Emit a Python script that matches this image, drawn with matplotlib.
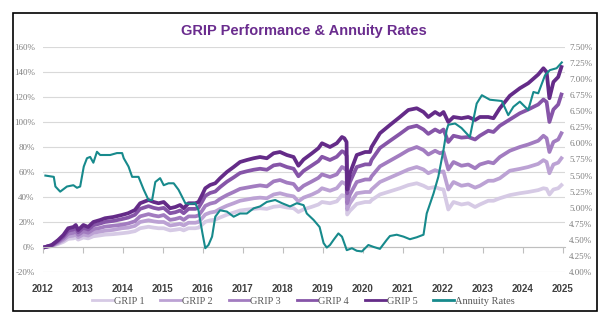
import matplotlib
matplotlib.use("Agg")
import matplotlib.pyplot as plt
from matplotlib.patches import Rectangle
from matplotlib.lines import Line2D

# chart time (position along the year axis) shared by the GRIP series
grip_t = [
    2012.06, 2012.22, 2012.38, 2012.51, 2012.63, 2012.76, 2012.82, 2012.88,
    2013.01, 2013.13, 2013.26, 2013.43, 2013.55, 2013.76, 2013.97,
    2014.13, 2014.30, 2014.43, 2014.64, 2014.77, 2014.89,
    2015.02, 2015.18, 2015.31, 2015.43, 2015.52, 2015.64, 2015.81, 2015.89, 2015.98,
    2016.06, 2016.18, 2016.31, 2016.43, 2016.60, 2016.77, 2016.93,
    2017.10, 2017.27, 2017.43, 2017.60, 2017.77, 2017.93,
    2018.10, 2018.27, 2018.39, 2018.52, 2018.73, 2018.89, 2018.98,
    2019.18, 2019.35, 2019.48, 2019.54, 2019.595, 2019.61, 2019.68, 2019.85,
    2020.06, 2020.18, 2020.22, 2020.43, 2020.68, 2020.93,
    2021.14, 2021.35, 2021.52, 2021.64, 2021.81, 2021.93,
    2022.02, 2022.14, 2022.27, 2022.47, 2022.64, 2022.81, 2022.93,
    2023.14, 2023.27, 2023.43, 2023.68, 2023.93,
    2024.14, 2024.39, 2024.52, 2024.60, 2024.67, 2024.77, 2024.89, 2024.97,
]

grip5 = [
    0, 1.6, 5.6, 9.6, 15, 16, 17.6, 13.6,
    17.6, 16, 20, 21.6, 23, 24, 25.6,
    27, 29.6, 35, 37.6, 36, 35,
    36, 31, 32, 33.6, 31, 35, 35, 36, 41.6,
    47, 49.6, 51, 55, 60, 64, 68,
    69.6, 71, 72, 71, 75, 76,
    73.6, 72, 65, 70, 75, 79, 83,
    80, 83, 88, 87, 84, 46, 59, 73.6,
    76, 76, 80, 91, 97.6, 104,
    109.6, 111, 108, 104, 108, 105.6,
    108, 100, 104, 103, 104, 101.6, 104,
    104, 103, 111, 121, 127,
    131, 138, 143, 140, 119, 132, 136, 144,
]
grip4 = [
    0, 1.4, 4.9, 8.3, 13, 14, 15.3, 11.8,
    15.3, 14, 17.4, 18.8, 20, 20.9, 22.3,
    23.5, 25.8, 30.5, 32.7, 31.3, 30.5,
    31.3, 27, 27.8, 29.2, 27, 30.5, 30.5, 31.3, 36.2,
    40.9, 43.2, 44.4, 47.9, 52.2, 55.7, 59.2,
    60.6, 61.8, 62.6, 61.8, 65.3, 66.1,
    64, 62.6, 56.6, 60.9, 65.3, 68.7, 72.2,
    69.6, 72.2, 76.6, 75.7, 73, 43, 52, 64,
    66.1, 66.1, 69.6, 79.2, 84.9, 90.5,
    95.4, 97, 94, 90.5, 94, 91.9,
    94, 84, 89, 87.5, 88, 86, 89,
    93, 92, 97, 102, 107,
    110, 114, 118, 116, 100, 110, 114, 122,
]
grip3 = [
    0, 1.1, 4, 6.8, 10.6, 11.4, 12.5, 9.7,
    12.5, 11.4, 14.2, 15.3, 16.3, 17, 17.8,
    18.8, 20.6, 24.5, 26.3, 25.2, 24.5,
    25.6, 21.7, 22.4, 23.5, 21.7, 24.5, 24.5, 25.2, 29,
    32.9, 34.7, 35.7, 38.5, 41.5, 44, 46.5,
    47.5, 48.5, 49.3, 48.5, 52.5, 53.6,
    51.5, 50.4, 45.5, 49, 52.5, 55.3, 58.1,
    56, 58.1, 64, 63, 61, 35, 42, 52,
    54, 54, 56.5, 64.5, 69, 73.5,
    77.5, 80, 77.5, 74, 77, 75,
    76, 62, 68, 65, 66, 63, 66,
    68, 67, 72, 77, 80,
    82, 85, 89, 87, 76, 84, 86, 91,
]
grip2 = [
    0, 0.9, 3.2, 5.5, 8.5, 9.1, 10, 7.8,
    10, 9.1, 11.4, 12.3, 13, 13.7, 15,
    15.5, 16.9, 20, 21.4, 20.5, 20,
    20, 17.2, 17.8, 18.6, 17.2, 19.4, 19.4, 20, 23,
    26, 27.5, 28.3, 30.5, 33, 35, 37,
    38, 39, 39.5, 39, 42, 43,
    41.5, 40.5, 36.5, 39.5, 42, 44.5, 47,
    45, 47, 52, 51, 49.5, 30, 35, 43,
    44, 44, 46, 52, 55.5, 59,
    62, 64, 62, 59, 61.5, 60,
    60.5, 46, 52, 49, 50, 47.5, 49,
    53, 53, 55, 61, 62.5,
    64, 66.5, 69.5, 68, 59, 66, 67.5, 71,
]
grip1 = [
    0, 0.7, 2.4, 4.1, 6.5, 6.9, 7.6, 5.9,
    7.6, 6.9, 8.6, 9.3, 9.9, 10.3, 11,
    11.6, 12.7, 15, 16.2, 15.5, 15,
    15, 13.3, 13.8, 14.4, 13.3, 15, 15, 15.5, 17.9,
    20.2, 21.3, 21.9, 23.6, 25.8, 27.5, 29.2,
    29.9, 30.5, 31, 30.5, 32.2, 32.7,
    31.6, 31, 28, 30.1, 32.2, 34, 36,
    35, 36.5, 41.5, 41, 40, 26, 29, 34.5,
    36, 36, 37.5, 42, 44.5, 47,
    49.5, 51, 49, 47, 48, 46.5,
    46, 30, 36, 34, 35, 32, 34,
    37, 37, 39, 41.5, 43,
    44, 45.5, 47, 46.5, 42, 46, 47, 49.5,
]

annuity_t = [
    2012.06, 2012.27, 2012.31, 2012.43, 2012.60, 2012.76, 2012.85, 2012.93,
    2013.02, 2013.10, 2013.18, 2013.26, 2013.35, 2013.43, 2013.68, 2013.85, 2013.98,
    2014.02, 2014.14, 2014.23, 2014.39, 2014.52, 2014.64, 2014.73, 2014.81, 2014.93,
    2015.02, 2015.14, 2015.27, 2015.39, 2015.48, 2015.56, 2015.68, 2015.81, 2015.89, 2015.93, 2015.99,
    2016.06, 2016.14, 2016.23, 2016.31, 2016.43, 2016.60, 2016.77, 2016.93,
    2017.10, 2017.27, 2017.43, 2017.60, 2017.81, 2017.98,
    2018.18, 2018.35, 2018.52, 2018.60, 2018.77, 2018.92,
    2019.02, 2019.10, 2019.18, 2019.27, 2019.39, 2019.48, 2019.60, 2019.73, 2019.85, 2019.98,
    2020.14, 2020.27, 2020.43, 2020.60, 2020.68, 2020.85,
    2021.02, 2021.18, 2021.35, 2021.52, 2021.60, 2021.77, 2021.89,
    2022.02, 2022.10, 2022.14, 2022.31, 2022.47, 2022.68, 2022.85, 2022.98,
    2023.18, 2023.48, 2023.64, 2023.77, 2023.93,
    2024.14, 2024.27, 2024.39, 2024.56, 2024.68, 2024.85, 2024.98,
]
annuity = [
    5.50, 5.48, 5.33, 5.25, 5.33, 5.35, 5.31, 5.33,
    5.64, 5.77, 5.79, 5.70, 5.87, 5.82, 5.82, 5.85, 5.85,
    5.77, 5.64, 5.48, 5.48, 5.28, 5.12, 5.12, 5.40, 5.46,
    5.35, 5.38, 5.38, 5.28, 5.17, 5.07, 5.06, 5.07, 4.96, 4.81, 4.60,
    4.37, 4.42, 4.55, 4.86, 4.96, 4.94, 4.86, 4.91,
    4.91, 4.99, 5.02, 5.09, 5.12, 5.07,
    5.02, 5.07, 5.04, 4.91, 4.81, 4.70,
    4.45, 4.38, 4.42, 4.50, 4.60, 4.55, 4.34, 4.37, 4.33, 4.32,
    4.42, 4.39, 4.36, 4.50, 4.56, 4.58,
    4.55, 4.51, 4.54, 4.58, 4.91, 5.22, 5.48,
    5.90, 6.21, 6.29, 6.31, 6.24, 6.10, 6.62, 6.75,
    6.68, 6.66, 6.44, 6.57, 6.65,
    6.52, 6.80, 6.78, 7.06, 7.14, 7.17, 7.26,
]

years = list(range(2012, 2026))
left_ticks = [-20, 0, 20, 40, 60, 80, 100, 120, 140, 160]
right_ticks = [4.00, 4.25, 4.50, 4.75, 5.00, 5.25, 5.50, 5.75, 6.00, 6.25,
               6.50, 6.75, 7.00, 7.25, 7.50]

grip_series = [grip1, grip2, grip3, grip4, grip5]
grip_names = ["GRIP 1", "GRIP 2", "GRIP 3", "GRIP 4", "GRIP 5"]
grip_colors = ["#d6cae5", "#bca2d4", "#a27cc0", "#8655a8", "#642b88"]
teal = "#178a8c"
serif = "Liberation Serif"
sans = "Liberation Sans"

W, H = 607, 330
fig = plt.figure(figsize=(W / 100, H / 100), dpi=100)
x0, x1, y0, y1 = 43, 565, 47, 272
ax = fig.add_axes([x0 / W, 1 - y1 / H, (x1 - x0) / W, (y1 - y0) / H])

for vals, name, col in zip(grip_series, grip_names, grip_colors):
    ax.plot(grip_t, vals, color=col, lw=2.7, label=name, solid_joinstyle="round")

ax.set_xlim(2012, 2025.06)
ax.set_ylim(-20, 160)
ax.set_yticks(left_ticks)
ax.set_yticklabels([f"{v}%" for v in left_ticks], family=serif, fontsize=6.5, color="#7f7f7f")
ax.tick_params(axis="y", length=0, pad=6)
ax.yaxis.grid(True, color="#d9d9d9", lw=0.8)
ax.set_axisbelow(True)
for s in ["top", "right", "left"]:
    ax.spines[s].set_visible(False)
ax.spines["bottom"].set_position(("data", 0))
ax.spines["bottom"].set_color("#bfbfbf")
ax.spines["bottom"].set_linewidth(0.8)
ax.set_xticks(years)
ax.tick_params(axis="x", length=4, width=0.8, color="#bfbfbf", labelbottom=False)

sec = ax.secondary_xaxis("bottom")
sec.set_xticks(years)
sec.set_xticklabels([str(y) for y in years], family=sans, fontweight="bold",
                    fontsize=7, color="#404040")
sec.tick_params(length=0, pad=9)
sec.spines["bottom"].set_visible(False)

ax2 = ax.twinx()
ax2.plot(annuity_t, annuity, color=teal, lw=1.5, label="Annuity Rates")
ax2.set_ylim(4.0, 7.5)
ax2.set_yticks(right_ticks)
ax2.set_yticklabels([f"{v:.2f}%" for v in right_ticks], family=serif, fontsize=6.5, color="#7f7f7f")
ax2.tick_params(axis="y", length=0, pad=3)
for s in ["top", "right", "left", "bottom"]:
    ax2.spines[s].set_visible(False)

fig.text(0.5, 1 - 31 / H, "GRIP Performance & Annuity Rates", ha="center", va="center",
         family=sans, fontweight="bold", fontsize=10.5, color="#6a2c8e")

handles = [Line2D([], [], color=c, lw=2) for c in grip_colors] + [Line2D([], [], color=teal, lw=2)]
labels = grip_names + ["Annuity Rates"]
fig.legend(handles, labels, loc="center", bbox_to_anchor=(0.5, 1 - 301 / H), ncol=6,
           frameon=False, prop={"family": serif, "size": 7.5}, labelcolor="#595959",
           handlelength=2.0, handletextpad=0.1, columnspacing=1.5)

fig.patches.append(Rectangle((13 / W, 1 - 311 / H), (597 - 13) / W, (311 - 13) / H,
                             transform=fig.transFigure, fill=False, ec="black", lw=1.2))

fig.savefig("out.png", dpi=100, facecolor="white")
